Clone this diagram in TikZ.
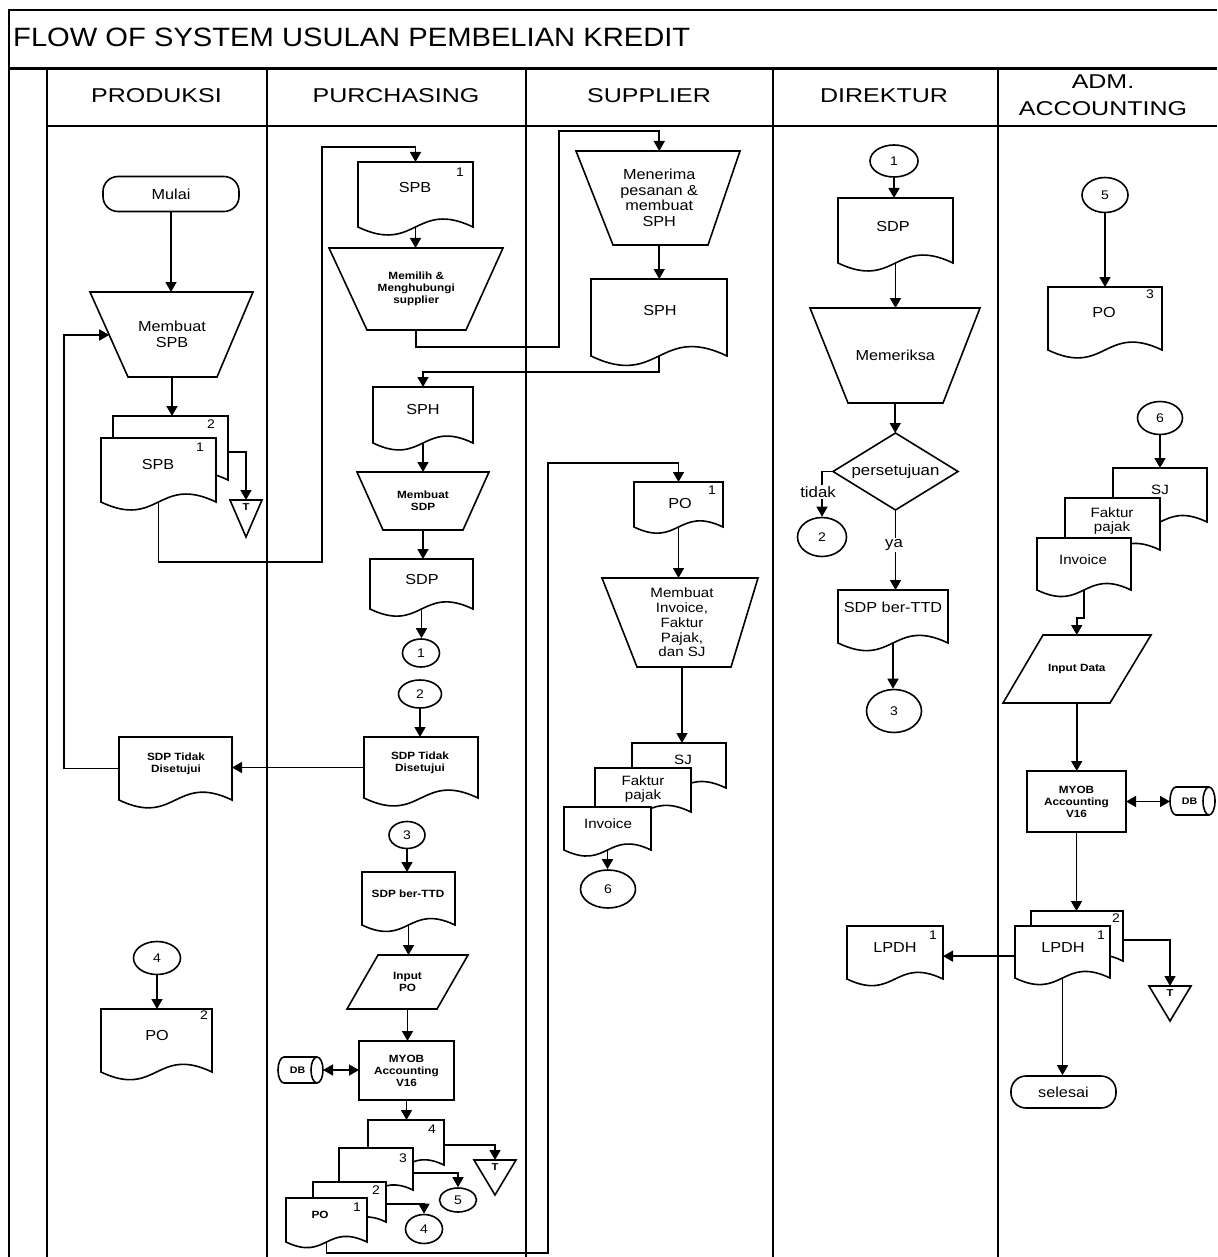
\documentclass[tikz,border=0pt]{standalone}
\usepackage{fontspec}
\setmainfont[FakeStretch=1.12]{Liberation Sans}
\newfontfamily\titlef[FakeStretch=1.1]{Liberation Sans}
\newfontfamily\headf[FakeStretch=1.25]{Liberation Sans}
\usetikzlibrary{shapes.geometric,arrows.meta,calc}

\tikzset{
  shp/.style={draw, line width=1.6pt, line join=miter},
  box/.style={inner sep=0pt, outer sep=0pt, align=center},
  con/.style={line width=1.6pt, -{Triangle[length=10pt,width=11pt]}},
  dbl/.style={line width=1.6pt, {Triangle[length=10pt,width=11pt]}-{Triangle[length=10pt,width=11pt]}},
  frm/.style={line width=1.8pt},
  conn/.style={ellipse, draw, line width=1.6pt, inner sep=0pt, font=\fontsize{12.5}{12.5}\selectfont},
  term/.style={draw, line width=1.6pt, rounded corners=15pt, inner sep=0pt, font=\fontsize{14.5}{16}\selectfont},
  tx/.style={inner sep=0pt, align=center, font=\fontsize{14.5}{15.5}\selectfont},
  txs/.style={inner sep=0pt, align=center, font=\fontsize{13.5}{14.8}\selectfont},
  bx/.style={inner sep=0pt, align=center, font=\fontsize{10.5}{12}\selectfont\bfseries},
  num/.style={inner sep=0pt, font=\fontsize{12.5}{12.5}\selectfont},
  lbl/.style={inner sep=1pt, fill=white, font=\fontsize{15}{15}\selectfont},
  hd/.style={inner sep=0pt, align=center, font=\headf\fontsize{20}{27}\selectfont},
}

% document symbol: name, x0, y0, x1, y1 (y1 = bottom corners)
\newcommand\docu[5]{%
  \node[box, minimum width={(#4-#2)*1pt}, minimum height={(#5-#3)*1pt}] (#1) at ({(#2+#4)/2},{(#3+#5)/2}) {};
  \draw[shp, fill=white] (#1.south east) .. controls ($(#1.south)+(0,{-0.24*(#4-#2)})$) and ($(#1.south)+(0,{0.24*(#4-#2)})$) .. (#1.south west) -- (#1.north west) -- (#1.north east) -- cycle;
}
% quadrilateral with horizontal top/bottom: [font] name xtl xtr ytop xbl xbr ybot text
\newcommand\manop[9][]{%
  \draw[shp, fill=white] (#3,#5) -- (#4,#5) -- (#7,#8) -- (#6,#8) -- cycle;
  \coordinate (#2-tl) at (#3,#5); \coordinate (#2-tr) at (#4,#5);
  \coordinate (#2-bl) at (#6,#8); \coordinate (#2-br) at (#7,#8);
  \node[box, #1, minimum width={(#4-#3)*1pt}, minimum height={(#8-#5)*1pt}] (#2) at ({(#3+#4+#6+#7)/4},{(#5+#8)/2}) {#9};
}
% offline storage triangle: name x0 x1 ytop ybot
\newcommand\offl[5]{%
  \node[box, minimum width={(#3-#2)*1pt}, minimum height={(#5-#4)*1pt}] (#1) at ({(#2+#3)/2},{(#4+#5)/2}) {};
  \draw[shp] (#1.north west) -- (#1.north east) -- (#1.south) -- cycle;
  \node[inner sep=0pt, font=\fontsize{10}{10}\selectfont\bfseries, below=3pt] (#1-t) at (#1.north) {T};
}
% database cylinder: name x0 x1 y0 y1
\newcommand\dbcyl[5]{%
  \node[box, minimum width={(#3-#2)*1pt}, minimum height={(#5-#4)*1pt}] (#1) at ({(#2+#3)/2},{(#4+#5)/2}) {};
  \draw[shp, fill=white] ($(#1.north west)+(6pt,0)$) -- ($(#1.north east)+(-6pt,0)$)
     arc[start angle=90, end angle=-90, x radius=6pt, y radius={(#5-#4)/2*1pt}]
     -- ($(#1.south west)+(6pt,0)$)
     arc[start angle=270, end angle=90, x radius=6pt, y radius={(#5-#4)/2*1pt}] -- cycle;
  \draw[shp] ($(#1.north east)+(-6pt,0)$) arc[start angle=90, end angle=270, x radius=6pt, y radius={(#5-#4)/2*1pt}];
  \node[inner sep=0pt, font=\fontsize{9.5}{9.5}\selectfont\bfseries] (#1-t) at ($(#1)+(-3pt,0)$) {DB};
}

\begin{document}
\begin{tikzpicture}[x=1pt,y=-1pt]
\useasboundingbox (0,0) rectangle (1217,1257);
\fill[white] (0,0) rectangle (1217,1257);

% ---------- frame ----------
\draw[line width=2.2pt] (9,1257) -- (9,10) -- (1217,10);
\draw[line width=3pt] (9,69) -- (1217,69);
\draw[frm] (47,126) -- (1217,126);
\draw[frm] (47,69) -- (47,1257);
\foreach \x in {267,526,773,998} \draw[frm] (\x,69) -- (\x,1257);

\node[anchor=west, inner sep=0pt, font=\titlef\fontsize{26.5}{28}\selectfont] (title) at (13,37) {FLOW OF SYSTEM USULAN PEMBELIAN KREDIT};
\node[hd] (hprod) at (156.5,96) {PRODUKSI};
\node[hd] (hpur) at (396,96) {PURCHASING};
\node[hd] (hsup) at (649,96) {SUPPLIER};
\node[hd] (hdir) at (884,96) {DIREKTUR};
\node[hd] (hadm) at (1103,95) {ADM.\\ACCOUNTING};

% ---------- PRODUKSI ----------
\node[term, minimum width=136pt, minimum height=35pt] (mulai) at (171,194) {Mulai};
\manop[tx]{spbm}{90}{253}{292}{128}{217}{377}{Membuat\\SPB}
\docu{spb2}{113}{416}{228}{480}
\docu{spb1}{101}{438}{216}{502}
\node[num] (spb2n) at (211,424) {2};
\node[num] (spb1n) at (200,447) {1};
\node[tx] (spb1t) at (158,465) {SPB};
\offl{t1}{230}{262}{500}{537}
\docu{sdpt1}{119}{737}{232}{800}
\node[bx] (sdpt1t) at (176,764) {SDP Tidak\\Disetujui};
\node[conn, minimum width=47pt, minimum height=33pt] (c4b) at (157,958) {4};
\docu{po2}{101}{1009}{212}{1072}
\node[tx] (po2t) at (157,1035) {PO};
\node[num] (po2n) at (204,1015) {2};

% ---------- PURCHASING ----------
\docu{spbp}{358}{162}{473}{227}
\node[tx] (spbpt) at (415,188) {SPB};
\node[num] (spbpn) at (460,172) {1};
\manop[bx]{pilih}{329}{503}{248}{367}{466}{330}{Memilih \&\\Menghubungi\\supplier}
\docu{sphp}{373}{387}{473}{443}
\node[tx] (sphpt) at (423,410) {SPH};
\manop[bx]{msdp}{357}{489}{472}{383}{463}{530}{Membuat\\SDP}
\docu{sdpp}{370}{559}{473}{609}
\node[tx] (sdppt) at (422,580) {SDP};
\node[conn, minimum width=37pt, minimum height=28pt] (c1p) at (421,653) {1};
\node[conn, minimum width=43pt, minimum height=28pt] (c2p) at (420,694) {2};
\docu{sdpt2}{364}{737}{478}{798}
\node[bx] (sdpt2t) at (420,763) {SDP Tidak\\Disetujui};
\node[conn, minimum width=36pt, minimum height=27pt] (c3p) at (407,835) {3};
\docu{ttdp}{362}{872}{455}{925}
\node[bx] (ttdpt) at (408,894) {SDP ber-TTD};
\manop[bx]{inpo}{378}{468}{955}{347}{437}{1009}{Input\\PO}
\node[shp, box, bx, minimum width=95pt, minimum height=59pt] (myob1) at (406.5,1070.5) {MYOB\\Accounting\\V16};
\dbcyl{db1}{278}{323}{1057}{1083}
\docu{po4}{368}{1120}{444}{1165}
\docu{po3}{339}{1148}{413}{1190}
\docu{po2p}{313}{1182}{386}{1222}
\docu{po1p}{286}{1198}{367}{1242}
\node[num] (po4n) at (432,1129) {4};
\node[num] (po3n) at (403,1158) {3};
\node[num] (po2pn) at (376,1190) {2};
\node[num] (po1pn) at (357,1207) {1};
\node[bx] (po1pt) at (320,1215) {PO};
\offl{t2}{474}{516}{1160}{1195}
\node[conn, minimum width=37pt, minimum height=24pt] (c5p) at (458,1200) {5};
\node[conn, minimum width=37pt, minimum height=29pt] (c4p) at (424,1229) {4};

% ---------- SUPPLIER ----------
\manop[tx]{terima}{576}{740}{151}{613}{708}{245}{Menerima\\pesanan \&\\membuat\\SPH}
\docu{sphs}{591}{279}{727}{356}
\node[tx] (sphst) at (660,311) {SPH};
\docu{po1s}{634}{482}{723}{527}
\node[tx] (po1st) at (680,504) {PO};
\node[num] (po1sn) at (712,490) {1};
\manop[txs]{inv}{602}{758}{578}{637}{731}{667}{Membuat\\Invoice,\\Faktur\\Pajak,\\dan SJ}
\docu{sjs}{632}{743}{726}{788}
\docu{fps}{595}{768}{691}{812}
\docu{invs}{564}{807}{651}{850}
\node[txs] (sjst) at (683,760) {SJ};
\node[txs] (fpst) at (643,789) {Faktur\\pajak};
\node[txs] (invst) at (608,824) {Invoice};
\node[conn, minimum width=55pt, minimum height=38pt] (c6s) at (608,889) {6};

% ---------- DIREKTUR ----------
\node[conn, minimum width=48pt, minimum height=32pt] (c1d) at (894,161) {1};
\docu{sdpd}{838}{198}{953}{263}
\node[tx] (sdpdt) at (893,227) {SDP};
\manop[tx]{periksa}{810}{980}{308}{848}{943}{403}{Memeriksa}
\node[box, font=\fontsize{15}{15}\selectfont, minimum width=125pt, minimum height=77pt] (dec) at (895.5,471.5) {persetujuan};
\draw[shp] (dec.north) -- (dec.east) -- (dec.south) -- (dec.west) -- cycle;
\node[conn, minimum width=49pt, minimum height=39pt] (c2d) at (822,537) {2};
\docu{ttdd}{838}{590}{948}{643}
\node[tx] (ttddt) at (893,607) {SDP ber-TTD};
\node[conn, minimum width=55pt, minimum height=43pt] (c3d) at (894,711) {3};
\docu{lpdhd}{847}{926}{943}{979}
\node[tx] (lpdhdt) at (895,948) {LPDH};
\node[num] (lpdhdn) at (933,935) {1};

% ---------- ADM. ACCOUNTING ----------
\node[conn, minimum width=46pt, minimum height=35pt] (c5a) at (1105,195) {5};
\docu{po3a}{1048}{287}{1162}{350}
\node[tx] (po3at) at (1104,313) {PO};
\node[num] (po3an) at (1150,294) {3};
\node[conn, minimum width=45pt, minimum height=33pt] (c6a) at (1160,418) {6};
\docu{sja}{1113}{468}{1207}{522}
\docu{fpa}{1065}{498}{1160}{550}
\docu{inva}{1037}{538}{1131}{590}
\node[txs] (sjat) at (1160,490) {SJ};
\node[txs] (fpat) at (1112,521) {Faktur\\pajak};
\node[txs] (invat) at (1083,560) {Invoice};
\manop[bx]{indata}{1043}{1151}{635}{1003}{1110}{703}{Input Data}
\node[shp, box, bx, minimum width=99pt, minimum height=61pt] (myob2) at (1076.5,801.5) {MYOB\\Accounting\\V16};
\dbcyl{db2}{1170}{1215}{787}{815}
\docu{lpdh2}{1031}{911}{1123}{961}
\docu{lpdh1}{1015}{926}{1110}{978}
\node[tx] (lpdh1t) at (1063,948) {LPDH};
\node[num] (lpdh1n) at (1101,935) {1};
\node[num] (lpdh2n) at (1116,918) {2};
\offl{t3}{1149}{1191}{986}{1021}
\node[term, minimum width=105pt, minimum height=32pt] (selesai) at (1063.5,1092) {selesai};

% ---------- connectors ----------
\coordinate (b1) at (322,562);
\coordinate (b2) at (322,147);
\coordinate (b3) at (64,0);
\coordinate (b4) at (559,347);
\coordinate (b5) at (559,131);
\coordinate (b6) at (0,372);
\coordinate (b7) at (548,1253);
\coordinate (b8) at (548,463);
\coordinate (b9) at (0,618);
\coordinate (spb2r) at ($(spb2.north east)!0.56!(spb2.south east)$);
\coordinate (spbmin) at ($(spbm-tl)!0.506!(spbm-bl)$);
\coordinate (po4r) at ($(po4.north east)!0.56!(po4.south east)$);
\coordinate (po3r) at ($(po3.north east)!0.6!(po3.south east)$);
\coordinate (po2r) at ($(po2p.north east)!0.55!(po2p.south east)$);
\coordinate (lp2r) at ($(lpdh2.north east)!0.58!(lpdh2.south east)$);
\coordinate (lp1l) at ($(lpdh1.north west)!0.58!(lpdh1.south west)$);

% produksi
\draw[con] (mulai.south) -- (mulai.south |- spbm.north);
\draw[con] (spbm.south) -- (spbm.south |- spb2.north);
\draw[con] (spb2r) -| (t1.north);
\draw[con] (spb1.south) |- (b1) -- (b2) -| (spbp.north);
\draw[con] (sdpt2.west) -- (sdpt2.west -| sdpt1.east);
\draw[con] (sdpt1.west) -- (b3 |- sdpt1.west) |- (spbmin);
\draw[con] (c4b.south) -- (c4b.south |- po2.north);
% purchasing
\draw[con] (spbp.south) -- (spbp.south |- pilih.north);
\draw[con] (pilih.south) |- (b4) -- (b5) -| (terima.north);
\draw[con] (sphs.south) -- (sphs.south |- b6) -| (sphp.north);
\draw[con] (sphp.south) -- (sphp.south |- msdp.north);
\draw[con] (msdp.south) -- (msdp.south |- sdpp.north);
\draw[con] (sdpp.south) -- (sdpp.south |- c1p.north);
\draw[con] (c2p.south) -- (c2p.south |- sdpt2.north);
\draw[con] (c3p.south) -- (c3p.south |- ttdp.north);
\draw[con] (ttdp.south) -- (ttdp.south |- inpo.north);
\draw[con] (inpo.south) -- (inpo.south |- myob1.north);
\draw[dbl] (db1.east) -- (db1.east -| myob1.west);
\draw[con] (myob1.south) -- (myob1.south |- po4.north);
\draw[con] (po4r) -| (t2.north);
\draw[con] (po3r) -| (c5p.north);
\draw[con] (po2r) -| (c4p.north);
\draw[con] (po1p.south) |- (b7) -- (b8) -| (po1s.north);
% supplier
\draw[con] (terima.south) -- (terima.south |- sphs.north);
\draw[con] (po1s.south) -- (po1s.south |- inv.north);
\draw[con] (inv.south) -- (inv.south |- sjs.north);
\draw[con] (invs.south) -- (invs.south |- c6s.north);
% direktur
\draw[con] (c1d.south) -- (c1d.south |- sdpd.north);
\draw[con] (sdpd.south) -- (sdpd.south |- periksa.north);
\draw[con] (periksa.south) -- (periksa.south |- dec.north);
\draw[con] (dec.west) -| (c2d.north);
\draw[con] (dec.south) -- (dec.south |- ttdd.north);
\node[lbl] (tidak) at (818,492) {tidak};
\node[lbl] (ya) at (894,545) {ya};
\draw[con] (ttdd.south) -- (ttdd.south |- c3d.north);
% adm accounting
\draw[con] (c5a.south) -- (c5a.south |- po3a.north);
\draw[con] (c6a.south) -- (c6a.south |- sja.north);
\draw[con] (inva.south) -- (inva.south |- b9) -| (indata.north);
\draw[con] (indata.south) -- (indata.south |- myob2.north);
\draw[dbl] (myob2.east) -- (myob2.east -| db2.west);
\draw[con] (myob2.south) -- (myob2.south |- lpdh2.north);
\draw[con] (lp2r) -| (t3.north);
\draw[con] (lp1l) -- (lp1l -| lpdhd.east);
\draw[con] (lpdh1.south) -- (lpdh1.south |- selesai.north);
\end{tikzpicture}
\end{document}
